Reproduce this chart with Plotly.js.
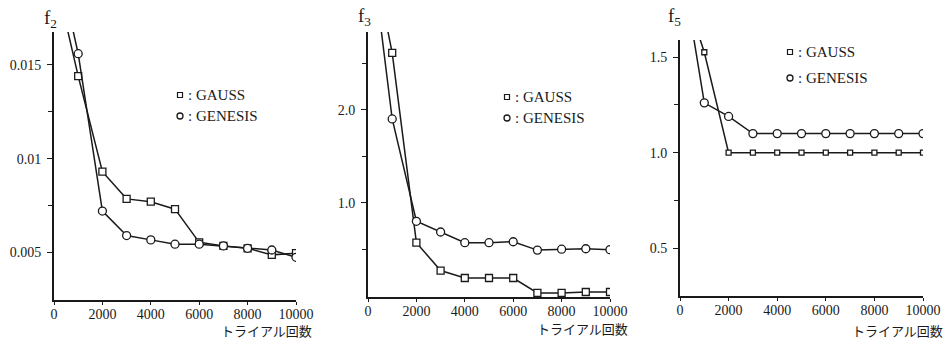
<!DOCTYPE html>
<html>
<head>
<meta charset="utf-8">
<script src="https://cdn.plot.ly/plotly-3.0.1.min.js"></script>
<style>html,body{margin:0;padding:0;background:#fff;}#chart{width:948px;height:342px;}</style>
</head>
<body>
<div id="chart"></div>
<script>
// Trial counts (x values shared by all panels)
const trials = [500, 1000, 2000, 3000, 4000, 5000, 6000, 7000, 8000, 9000, 10000];
const xTickVals = [0, 2000, 4000, 6000, 8000, 10000];
const xTickText = ['0', '2000', '4000', '6000', '8000', '10000'];

// f2
const f2Gauss   = [0.0172, 0.0144, 0.0093, 0.00785, 0.0077, 0.0073, 0.00553, 0.00534, 0.00521, 0.00486, 0.00495];
const f2Genesis = [0.0185, 0.0156, 0.0072, 0.00589, 0.00566, 0.00543, 0.00543, 0.00534, 0.00521, 0.00512, 0.00473];
// f3
const f3Gauss   = [3.26, 2.61, 0.57, 0.27, 0.19, 0.19, 0.19, 0.03, 0.03, 0.04, 0.04];
const f3Genesis = [2.95, 1.90, 0.80, 0.685, 0.57, 0.57, 0.58, 0.49, 0.50, 0.505, 0.495];
// f5
const f5Gauss   = [1.72, 1.526, 1.0, 1.0, 1.0, 1.0, 1.0, 1.0, 1.0, 1.0, 1.0];
const f5Genesis = [1.65, 1.261, 1.19, 1.10, 1.10, 1.10, 1.10, 1.10, 1.10, 1.10, 1.10];

const seriesNames = ['GAUSS', 'GENESIS'];
const xTitle = 'トライアル回数';

const ink = '#1a1a1a';
const serif = 'Liberation Serif, Times New Roman, serif';

function tr(y, xa, ya, sym, size) {
  return {
    x: trials, y: y, xaxis: xa, yaxis: ya,
    type: 'scatter', mode: 'lines+markers',
    line: {color: ink, width: 1.5},
    marker: {symbol: sym, size: size, color: '#fff', line: {color: ink, width: 1.3}},
    cliponaxis: true, hoverinfo: 'skip'
  };
}
const data = [
  tr(f2Gauss, 'x', 'y', 'square', 7),
  tr(f2Genesis, 'x', 'y', 'circle', 8),
  tr(f3Gauss, 'x2', 'y2', 'square', 7),
  tr(f3Genesis, 'x2', 'y2', 'circle', 8),
  tr(f5Gauss, 'x3', 'y3', 'square', 5),
  tr(f5Genesis, 'x3', 'y3', 'circle', 8)
];

const W = 948, H = 342;
const px = v => v / W, py = v => 1 - v / H;

function xax(d0, d1, anchor) {
  return {
    domain: [px(d0), px(d1)], range: [0, 10000], anchor: anchor,
    showline: true, linecolor: ink, linewidth: 2, mirror: false,
    ticks: 'outside', ticklen: 3, tickwidth: 1, tickcolor: ink,
    tickvals: xTickVals, ticktext: xTickText, ticklabelstandoff: -3,
    tickfont: {family: serif, size: 14, color: ink},
    showgrid: false, zeroline: false, fixedrange: true
  };
}
function yax(b, t, range, vals, text, minorVals, anchor) {
  return {
    domain: [py(b), py(t)], range: range, anchor: anchor,
    showline: true, linecolor: ink, linewidth: 2,
    ticks: 'outside', ticklen: 5, tickwidth: 1, tickcolor: ink,
    tickvals: vals, ticktext: text, ticklabelstandoff: 3,
    minor: {tickvals: minorVals, ticks: 'outside', ticklen: 4, tickwidth: 1, tickcolor: ink, showgrid: false},
    tickfont: {family: serif, size: 14, color: ink},
    showgrid: false, zeroline: false, fixedrange: true
  };
}

const annotations = [];
const shapes = [];
function ytitle(sub, cx, cy) {
  annotations.push({xref: 'paper', yref: 'paper', x: px(cx), y: py(cy), xanchor: 'center', yanchor: 'middle',
    text: 'f<sub>' + sub + '</sub>', showarrow: false, font: {family: serif, size: 19, color: ink}});
}
function xtitle(right, cy) {
  annotations.push({xref: 'paper', yref: 'paper', x: px(right), y: py(cy), xanchor: 'right', yanchor: 'middle',
    text: xTitle, showarrow: false, font: {family: 'Noto Sans CJK JP', size: 13, color: ink}});
}
function legend(ix, y1, y2) {
  shapes.push({type: 'rect', xref: 'paper', yref: 'paper', x0: px(ix - 2.5), x1: px(ix + 2.5), y0: py(y1 + 2.5), y1: py(y1 - 2.5),
    line: {color: ink, width: 1.2}, fillcolor: '#fff'});
  shapes.push({type: 'circle', xref: 'paper', yref: 'paper', x0: px(ix - 3), x1: px(ix + 3), y0: py(y2 + 3), y1: py(y2 - 3),
    line: {color: ink, width: 1.3}, fillcolor: '#fff'});
  annotations.push({xref: 'paper', yref: 'paper', x: px(ix + 6), y: py(y1), xanchor: 'left', yanchor: 'middle',
    text: ': ' + seriesNames[0], showarrow: false, font: {family: serif, size: 15, color: ink}});
  annotations.push({xref: 'paper', yref: 'paper', x: px(ix + 6), y: py(y2), xanchor: 'left', yanchor: 'middle',
    text: ': ' + seriesNames[1], showarrow: false, font: {family: serif, size: 15, color: ink}});
}

ytitle('2', 50, 19);
ytitle('3', 364, 17);
ytitle('5', 674, 17);
xtitle(314, 330);
xtitle(630, 328);
xtitle(945, 330);
legend(180, 95, 116);
legend(507, 97, 118);
legend(790, 52, 78);

const layout = {
  width: W, height: H,
  margin: {l: 0, r: 0, t: 0, b: 0, pad: 0},
  paper_bgcolor: '#fff', plot_bgcolor: 'rgba(0,0,0,0)',
  showlegend: false,
  xaxis: xax(54, 296, 'y'),
  yaxis: yax(300, 32, [0.00245, 0.01676], [0.005, 0.01, 0.015], ['0.005', '0.01', '0.015'], [0.0075, 0.0125], 'x'),
  xaxis2: xax(368, 610, 'y2'),
  yaxis2: yax(297, 32, [-0.014, 2.835], [1, 2], ['1.0', '2.0'], [0.5, 1.5, 2.5], 'x2'),
  xaxis3: xax(680, 923, 'y3'),
  yaxis3: yax(296, 40, [0.25, 1.59], [0.5, 1.0, 1.5], ['0.5', '1.0', '1.5'], [0.75, 1.25], 'x3'),
  annotations: annotations,
  shapes: shapes
};

Plotly.newPlot('chart', data, layout, {staticPlot: true, displayModeBar: false});
</script>
</body>
</html>
